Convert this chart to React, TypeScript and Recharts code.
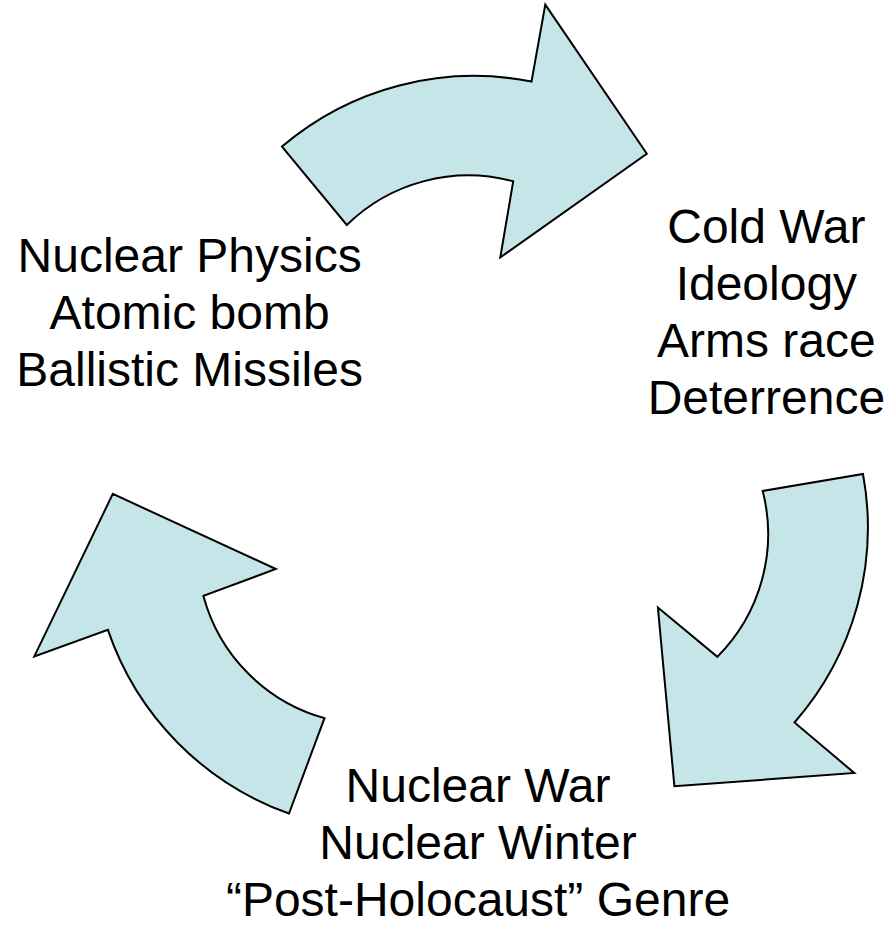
import { Pie, PieChart } from "recharts";

// three stages of the cycle, each arrow leaves its stage towards the next one
const stageNames = ["Nuclear Physics", "Cold War", "Nuclear War"];
const physicsLines = ["Nuclear Physics", "Atomic bomb", "Ballistic Missiles"];
const coldWarLines = ["Cold War", "Ideology", "Arms race", "Deterrence"];
const nuclearWarLines = ["Nuclear War", "Nuclear Winter", "\u201CPost-Holocaust\u201D Genre"];
const stageWeights = [1, 1, 1];

const stageLines = [physicsLines, coldWarLines, nuclearWarLines];
const stageData = stageNames.map((name, i) => ({
  name,
  weight: stageWeights[i],
  lines: stageLines[i],
}));

const RAD = Math.PI / 180;
const FONT = "'Liberation Sans', Arial, Helvetica, sans-serif";

const LABEL_RADIUS = 333;
const LOWER_DROP = 31;
const LINE_HEIGHT = 57;
const CAP_HALF = 17;

function polar(cx: number, cy: number, r: number, angle: number) {
  return [cx + r * Math.cos(-angle * RAD), cy + r * Math.sin(-angle * RAD)];
}

// curved block arrow drawn inside the pie sector, tail at startAngle, tip at endAngle
function CurvedArrow(props: any) {
  const { cx, cy, innerRadius: ri, outerRadius: ro, startAngle, endAngle, fill, stroke } = props;
  const sweep = endAngle - startAngle;
  const w = ro - ri;
  const at = (f: number, r: number) =>
    polar(cx, cy, r, startAngle + f * sweep)
      .map((v) => v.toFixed(1))
      .join(" ");
  const outerArc = (0.74 * ro).toFixed(1);
  const innerArc = (0.61 * ri).toFixed(1);
  const d = [
    `M ${at(0, ro - 0.13 * w)}`,
    `A ${outerArc} ${outerArc} 0 0 1 ${at(0.659, ro)}`,
    `L ${at(0.666, ro + 0.68 * w)}`,
    `L ${at(1, ri + 0.7 * w)}`,
    `L ${at(0.626, ri - 0.55 * w)}`,
    `L ${at(0.643, ri + 0.12 * w)}`,
    `A ${innerArc} ${innerArc} 0 0 0 ${at(0.055, ri)}`,
    "Z",
  ].join(" ");
  return <path d={d} fill={fill} stroke={stroke} strokeWidth={2} strokeLinejoin="miter" />;
}

function StageLabel(props: any) {
  const { cx, cy, midAngle, index } = props;
  const lines: string[] = props.payload?.lines ?? props.lines ?? stageLines[index];
  const [x, y0] = polar(cx, cy, LABEL_RADIUS, midAngle);
  const y = y0 + (Math.sin(midAngle * RAD) < -0.5 ? LOWER_DROP : 0);
  const first = y - ((lines.length - 1) / 2) * LINE_HEIGHT + CAP_HALF;
  return (
    <text x={x} y={first} textAnchor="middle" fontFamily={FONT} fontSize={48} fill="#000">
      {lines.map((line, i) => (
        <tspan key={i} x={x} y={first + i * LINE_HEIGHT}>
          {line}
        </tspan>
      ))}
    </text>
  );
}

export default function App() {
  return (
    <div style={{ width: 888, height: 929, background: "#fff" }}>
      <style>{"body{margin:0;background:#fff}"}</style>
      <PieChart width={888} height={929} margin={{ top: 0, right: 0, bottom: 0, left: 0 }}>
        <Pie
          data={stageData}
          dataKey="weight"
          nameKey="name"
          cx={478}
          cy={478}
          innerRadius={285}
          outerRadius={400}
          startAngle={120.6}
          endAngle={-239.4}
          paddingAngle={61.9}
          fill="#C5E5E8"
          stroke="#000"
          shape={CurvedArrow}
          activeShape={CurvedArrow}
          inactiveShape={CurvedArrow}
          isAnimationActive={false}
        />
        <Pie
          data={stageData}
          dataKey="weight"
          nameKey="name"
          cx={478}
          cy={478}
          innerRadius={0}
          outerRadius={1}
          startAngle={210}
          endAngle={-150}
          fill="none"
          stroke="none"
          label={StageLabel}
          labelLine={false}
          isAnimationActive={false}
        />
      </PieChart>
    </div>
  );
}
